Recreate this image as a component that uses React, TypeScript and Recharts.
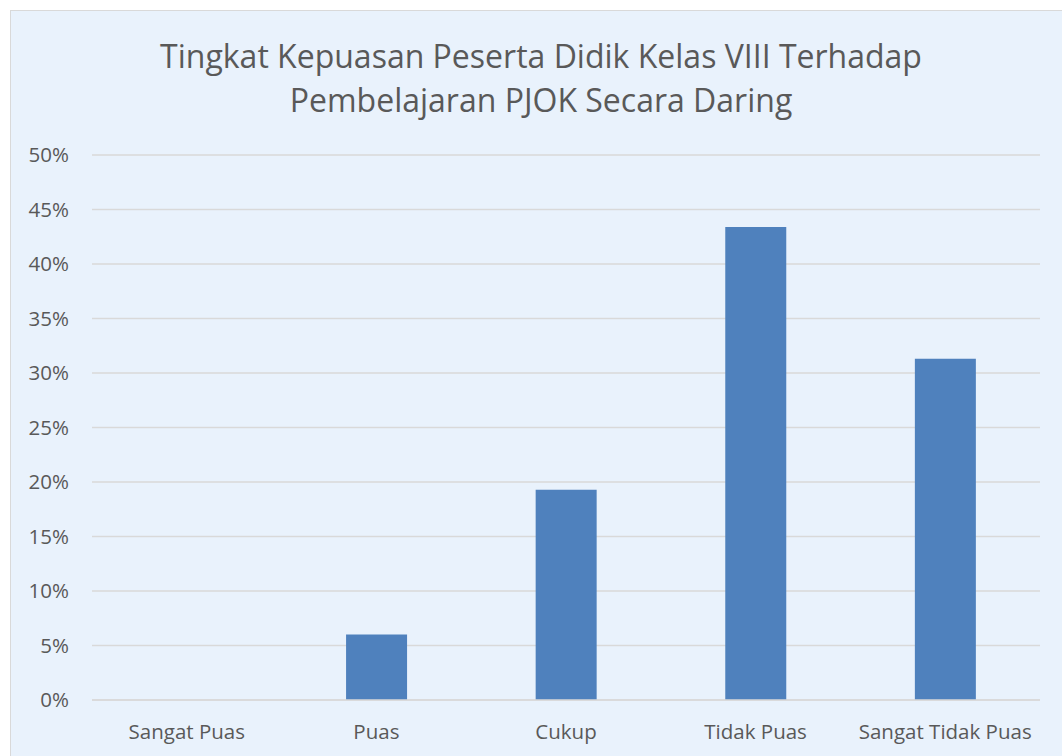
import React from 'react'
import { BarChart, Bar, XAxis, YAxis, CartesianGrid } from 'recharts'

const categories = ['Sangat Puas', 'Puas', 'Cukup', 'Tidak Puas', 'Sangat Tidak Puas']
const percentages = [0, 0.06, 0.193, 0.434, 0.313]
const yTicks = [0, 0.05, 0.1, 0.15, 0.2, 0.25, 0.3, 0.35, 0.4, 0.45, 0.5]
const titleLines = [
  'Tingkat Kepuasan Peserta Didik Kelas VIII Terhadap',
  'Pembelajaran PJOK Secara Daring',
]

const data = categories.map((name, i) => ({ name, value: percentages[i] }))

const FONT = '"Open Sans", "Noto Sans", sans-serif'
const TEXT = '#595959'

export default function App() {
  return (
    <div
      style={{
        position: 'fixed',
        left: 0,
        top: 0,
        width: 1062,
        height: 756,
        overflow: 'hidden',
        background: '#fff',
      }}
    >
      <div
        style={{
          position: 'absolute',
          left: 10,
          top: 10,
          width: 1060,
          height: 760,
          background: '#E9F2FC',
          border: '1px solid #D9D9D9',
          boxSizing: 'border-box',
        }}
      >
        {/* chart title, two centred lines */}
        <div
          style={{
            position: 'absolute',
            left: 0,
            top: 23,
            width: 1060,
            textAlign: 'center',
            fontFamily: FONT,
            fontSize: 32,
            lineHeight: '44px',
            color: TEXT,
          }}
        >
          {titleLines.map((t) => (
            <div key={t}>{t}</div>
          ))}
        </div>
        <div style={{ position: 'absolute', left: -1, top: -1 }}>
          <BarChart
            width={1060}
            height={760}
            data={data}
            margin={{ top: 145, right: 30, bottom: 0, left: 0 }}
            barCategoryGap="34%"
          >
            <CartesianGrid vertical={false} stroke="#D9D9D9" strokeWidth={1.4} />
            <XAxis
              dataKey="name"
              height={70}
              tickLine={false}
              axisLine={{ stroke: '#D9D9D9', strokeWidth: 1.4 }}
              tickSize={0}
              tickMargin={24}
              tick={{ fill: TEXT, fontSize: 20.5, fontFamily: FONT }}
              interval={0}
            />
            <YAxis
              width={82}
              domain={[0, 0.5]}
              ticks={yTicks}
              tickFormatter={(v: number) => `${Math.round(v * 100)}%`}
              tickLine={false}
              axisLine={false}
              tickSize={0}
              tickMargin={23}
              tick={{ fill: TEXT, fontSize: 20.5, fontFamily: FONT }}
            />
            <Bar dataKey="value" fill="#4F81BD" isAnimationActive={false} />
          </BarChart>
        </div>
      </div>
    </div>
  )
}
